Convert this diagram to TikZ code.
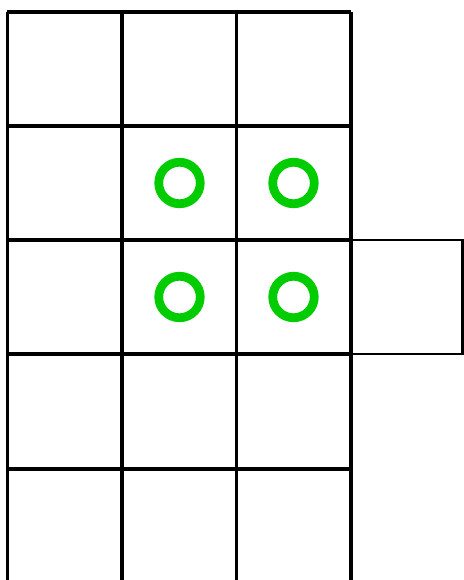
\documentclass[tikz,border=0pt]{standalone}
\usepackage{tikz}
\definecolor{verdecerchio}{RGB}{0,204,0}

\begin{document}
\begin{tikzpicture}
				\useasboundingbox (0, 0) rectangle (9.28, -11.6);
				
				% Griglia principale 3 x 5
				\draw[line width=2.2pt] (0.15, -0.24) -- (0.15, -11.6);
				\draw[line width=2.2pt] (2.44, -0.24) -- (2.44, -11.6);
				\draw[line width=2.2pt] (4.73, -0.24) -- (4.73, -11.6);
				\draw[line width=2.2pt] (7.02, -0.24) -- (7.02, -11.6);
				\draw[line width=2.2pt] (0.15, -0.24) -- (7.02, -0.24);
				\draw[line width=2.2pt] (0.15, -2.52) -- (7.02, -2.52);
				\draw[line width=2.2pt] (0.15, -4.80) -- (7.02, -4.80);
				\draw[line width=2.2pt] (0.15, -7.08) -- (7.02, -7.08);
				\draw[line width=2.2pt] (0.15, -9.38) -- (7.02, -9.38);
				
				% Cella aggiunta a destra
				\draw[line width=1.5pt] (7.02, -4.80) rectangle (9.25, -7.08);
				
				% Cerchi verdi
				\node[circle, draw=verdecerchio, line width=5pt, minimum size=0.83cm, inner sep=0pt] (c11) at (3.59, -3.66) {};
				\node[circle, draw=verdecerchio, line width=5pt, minimum size=0.83cm, inner sep=0pt] (c12) at (5.87, -3.66) {};
				\node[circle, draw=verdecerchio, line width=5pt, minimum size=0.83cm, inner sep=0pt] (c21) at (3.59, -5.94) {};
				\node[circle, draw=verdecerchio, line width=5pt, minimum size=0.83cm, inner sep=0pt] (c22) at (5.87, -5.94) {};
			\end{tikzpicture}
\end{document}
